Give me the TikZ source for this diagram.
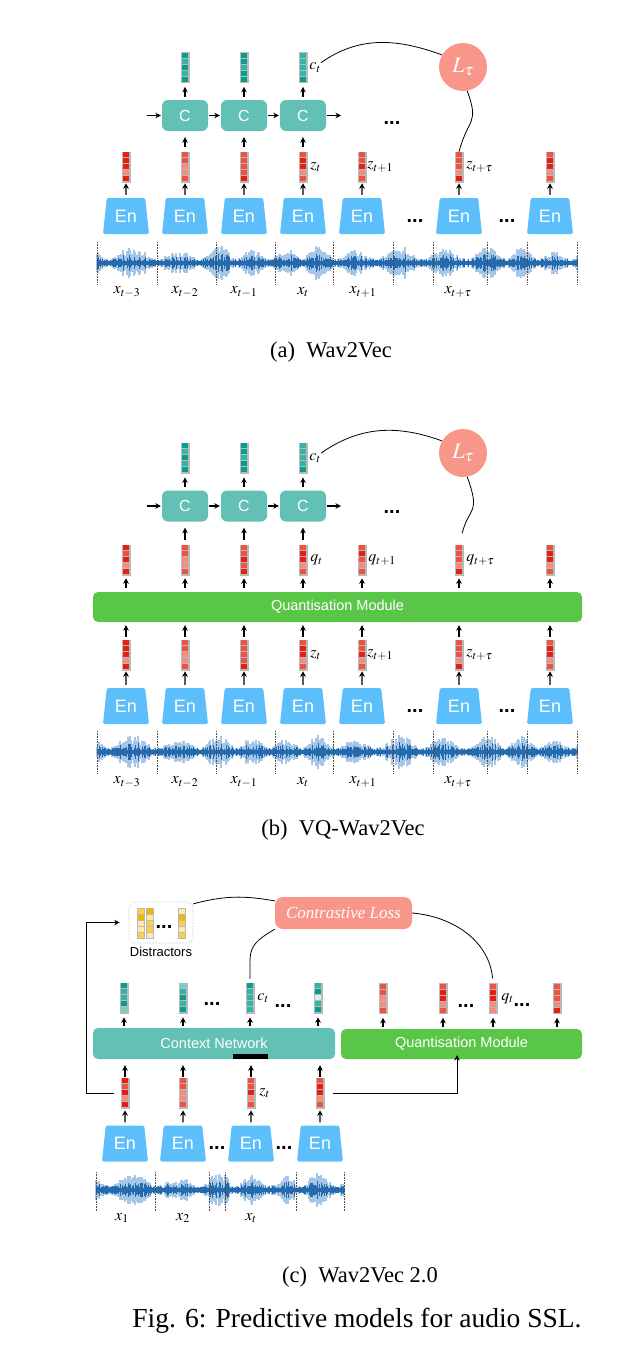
\documentclass[tikz,border=0pt]{standalone}
\usepackage{mathptmx}
\usepackage{fontspec}
\setmainfont{Liberation Serif}
\setsansfont{Liberation Sans}
\usepackage{tikz}
\usetikzlibrary{shapes.geometric, arrows.meta, positioning}

\definecolor{enblue}{RGB}{92,190,250}
\definecolor{ctxteal}{RGB}{98,192,180}
\definecolor{qgreen}{RGB}{90,198,72}
\definecolor{losspink}{RGB}{248,150,138}
\definecolor{wavelight}{RGB}{165,198,230}
\definecolor{wavedark}{RGB}{36,106,172}
\definecolor{vecgray}{RGB}{185,185,185}
\definecolor{r1}{RGB}{232,30,15}
\definecolor{r2}{RGB}{238,82,66}
\definecolor{r3}{RGB}{244,140,128}
\definecolor{t1}{RGB}{8,158,142}
\definecolor{t2}{RGB}{50,180,166}
\definecolor{t3}{RGB}{120,206,195}
\definecolor{t4}{RGB}{215,240,236}
\definecolor{y1}{RGB}{245,180,0}
\definecolor{y2}{RGB}{250,208,70}
\definecolor{y3}{RGB}{253,234,170}

\tikzstyle{encoder} = [trapezium, trapezium stretches=true, trapezium angle=80, minimum width=46pt, minimum height=36pt, inner sep=0pt, fill=enblue, rounded corners=1.5pt, text=white, font=\fontsize{18}{20}\selectfont\sffamily]
\tikzstyle{ctxbox} = [rectangle, rounded corners=6pt, minimum width=46pt, minimum height=31pt, fill=ctxteal, text=white, font=\fontsize{16}{18}\selectfont\sffamily]
\tikzstyle{bar} = [rectangle, rounded corners=5pt, minimum height=31pt, inner sep=0pt, text=white, font=\fontsize{14.5}{16}\selectfont\sffamily]
\tikzstyle{vecbox} = [rectangle, minimum width=8pt, minimum height=30pt, inner sep=0pt, fill=vecgray, draw=vecgray, line width=0.5pt]
\tikzstyle{loss} = [circle, minimum size=48pt, inner sep=0pt, fill=losspink, text=white, font=\fontsize{22}{24}\selectfont]
\tikzstyle{arrow} = [line width=1.3pt, -{Stealth[length=5.5pt, width=5.5pt]}]
\tikzstyle{link} = [line width=0.8pt]
\tikzstyle{lbl} = [inner sep=0pt, font=\fontsize{16}{18}\selectfont]
\tikzstyle{dots} = [inner sep=0pt, font=\fontsize{20}{22}\selectfont\sffamily\bfseries]
\tikzstyle{sep} = [densely dotted, line width=0.6pt, black!70]
\tikzstyle{subcap} = [inner sep=0pt, font=\fontsize{22.5}{26}\selectfont]

% cells of a feature vector, colours from top to bottom
\newcommand{\vcells}[2]{%
  \foreach \cc [count=\k] in #2
    \fill[\cc] ([xshift=0.8pt, yshift={-(\k-1)*6pt-0.4pt}]#1.north west) rectangle ([xshift=-0.8pt, yshift={-\k*6pt+0.4pt}]#1.north east);
}
% audio waveform from x=#1 to x=#2 on centre line #3, seed #4
\newcommand{\wenvelope}{4+14*(abs(sin(\xx*4.7+40*sin(\xx*1.3))))^1.6*(0.5+0.5*abs(sin(\xx*1.9+25)))}
\newcommand{\audio}[4]{%
  \pgfmathsetseed{#4}
  \foreach \xx in {#1,...,#2}{
    \pgfmathsetmacro{\whi}{(\wenvelope)*(0.4+0.6*rnd)}
    \draw[wavelight, line width=1.2pt] (\xx,#3-\whi) -- (\xx,#3+\whi);
  }
  \pgfmathsetseed{#4}
  \foreach \xx in {#1,...,#2}{
    \pgfmathsetmacro{\wlo}{2+0.45*(\wenvelope)*(rnd)^1.5}
    \draw[wavedark, line width=1pt] (\xx,#3-\wlo) -- (\xx,#3+\wlo);
  }
}

\begin{document}
\begin{tikzpicture}[x=1pt, y=-1pt]
\useasboundingbox (0,0) rectangle (621,1350);

%---------------------------------(a) WAV2VEC
\audio{97}{577}{263}{11}
\foreach \sx in {97,157,216,275,333,393,433,487,527,577}
  \draw[sep] (\sx,242) -- (\sx,284);

\foreach \i/\x in {1/126,2/185,3/244,4/303,5/362,6/459,7/550}
  \node (ena\i) [encoder] at (\x,216) {En};
\foreach \i/\x/\cl in {1/126/{r1,r1,r1,r3,r1},2/185/{r2,r2,r3,r3,r2},3/244/{r2,r2,r2,r2,r1},4/303/{r2,r1,r1,r3,r2},5/362/{r2,r2,r1,r3,r2},6/459/{r2,r2,r2,r3,r1},7/550/{r2,r1,r1,r3,r2}}{
  \node (za\i) [vecbox] at (\x,167) {};
  \vcells{za\i}{\cl}
  \draw [arrow, shorten <=3pt, shorten >=1pt] (ena\i) -- (za\i);
}
\node (ctxa2) [ctxbox] at (185,115.5) {C};
\node (ctxa3) [ctxbox] at (244,115.5) {C};
\node (ctxa4) [ctxbox] at (303,115.5) {C};
\foreach \i/\cl in {2/{t1,t2,t1,t2,t1},3/{t1,t1,t2,t1,t1},4/{t2,t2,t2,t2,t1}}{
  \node (cva\i) [vecbox, above=17pt of ctxa\i] {};
  \vcells{cva\i}{\cl}
}
\node (dota1) [dots] at (392,123) {...};
\node (dota2) [dots] at (415,221) {...};
\node (dota3) [dots] at (507,221) {...};
\node (La) [loss] at (463,67) {$L_\tau$};
\node (lcta) [lbl, right=2pt of cva4] {$c_t$};
\node (lzta) [lbl, right=3pt of za4] {$z_t$};
\node (lzt1a) [lbl, right=1pt of za5] {$z_{t+1}$};
\node (lztta) [lbl, right=3pt of za6] {$z_{t+\tau}$};
\foreach \i/\x/\sub in {1/127/{t-3},2/185/{t-2},3/244/{t-1},4/303/{t},5/363/{t+1},6/458/{t+\tau}}
  \node (xa\i) [lbl] at (\x,292) {$x_{\sub}$};
\coordinate (ina) at (147,115.5);
\coordinate (outa) at (341,115.5);

\draw [arrow, shorten >=1pt] (ina) -- (ctxa2);
\draw [arrow, shorten <=1pt, shorten >=1pt] (ctxa2) -- (ctxa3);
\draw [arrow, shorten <=1pt, shorten >=1pt] (ctxa3) -- (ctxa4);
\draw [arrow, shorten <=1pt] (ctxa4) -- (outa);
\foreach \i in {2,3,4}{
  \draw [arrow, shorten <=5pt, shorten >=6pt] (za\i) -- (ctxa\i);
  \draw [arrow, shorten <=3pt, shorten >=4pt] (ctxa\i) -- (cva\i);
}
\draw [link] (lcta.north east) to[out=35, in=160] (La.150);
\draw [link] (La.-80) to[out=-70, in=75, looseness=1.5] (za6.north);
\node (capa) [subcap] at (331,352) {(a)\enspace Wav2Vec};

%---------------------------------(b) VQ-WAV2VEC
\audio{97}{577}{752}{23}
\foreach \sx in {97,157,216,275,333,393,433,487,527,577}
  \draw[sep] (\sx,731) -- (\sx,773);

\foreach \i/\x in {1/126,2/185,3/244,4/303,5/362,6/459,7/550}
  \node (enb\i) [encoder] at (\x,706) {En};
\node (qmb) [bar, fill=qgreen, minimum width=489pt, minimum height=30pt] at (337.5,607) {Quantisation Module};
\foreach \i/\x/\cl in {1/126/{r1,r1,r1,r3,r1},2/185/{r2,r2,r3,r3,r2},3/244/{r2,r2,r2,r2,r1},4/303/{r2,r1,r1,r3,r2},5/362/{r2,r2,r1,r3,r2},6/459/{r2,r2,r2,r3,r1},7/550/{r2,r1,r1,r3,r2}}{
  \node (zb\i) [vecbox] at (\x,655) {};
  \vcells{zb\i}{\cl}
  \draw [arrow, shorten <=3pt, shorten >=1pt] (enb\i) -- (zb\i);
  \draw [arrow, shorten <=3pt, shorten >=3pt] (zb\i) -- (qmb.south -| zb\i);
}
\foreach \i/\x/\cl in {1/126/{r1,r2,r1,r3,r1},2/185/{r2,r2,r3,r3,r2},3/244/{r2,r2,r1,r2,r1},4/303/{r2,r1,r1,r3,r2},5/362/{r2,r1,r2,r3,r2},6/459/{r2,r2,r2,r3,r1},7/550/{r2,r1,r1,r3,r2}}{
  \node (qb\i) [vecbox] at (\x,560) {};
  \vcells{qb\i}{\cl}
  \draw [arrow, shorten <=4pt, shorten >=3pt] (qmb.north -| qb\i) -- (qb\i);
}
\node (ctxb2) [ctxbox] at (185,506) {C};
\node (ctxb3) [ctxbox] at (244,506) {C};
\node (ctxb4) [ctxbox] at (303,506) {C};
\foreach \i/\cl in {2/{t1,t2,t1,t2,t1},3/{t1,t1,t2,t1,t1},4/{t2,t2,t2,t2,t1}}{
  \node (cvb\i) [vecbox, above=17pt of ctxb\i] {};
  \vcells{cvb\i}{\cl}
}
\node (dotb1) [dots] at (392,512) {...};
\node (dotb2) [dots] at (415,711) {...};
\node (dotb3) [dots] at (507,711) {...};
\node (Lb) [loss] at (463,453) {$L_\tau$};
\node (lctb) [lbl, right=2pt of cvb4] {$c_t$};
\node (lqtb) [lbl, right=3pt of qb4] {$q_t$};
\node (lqt1b) [lbl, right=2pt of qb5] {$q_{t+1}$};
\node (lqttb) [lbl, right=3pt of qb6] {$q_{t+\tau}$};
\node (lztb) [lbl, right=3pt of zb4] {$z_t$};
\node (lzt1b) [lbl, right=1pt of zb5] {$z_{t+1}$};
\node (lzttb) [lbl, right=3pt of zb6] {$z_{t+\tau}$};
\foreach \i/\x/\sub in {1/127/{t-3},2/185/{t-2},3/244/{t-1},4/303/{t},5/363/{t+1},6/458/{t+\tau}}
  \node (xb\i) [lbl] at (\x,782) {$x_{\sub}$};
\coordinate (inb) at (147,506);
\coordinate (outb) at (341,506);

\draw [arrow, shorten >=1pt] (inb) -- (ctxb2);
\draw [arrow, shorten <=1pt, shorten >=1pt] (ctxb2) -- (ctxb3);
\draw [arrow, shorten <=1pt, shorten >=1pt] (ctxb3) -- (ctxb4);
\draw [arrow, shorten <=1pt] (ctxb4) -- (outb);
\foreach \i in {2,3,4}{
  \draw [arrow, shorten <=5pt, shorten >=6pt] (qb\i) -- (ctxb\i);
  \draw [arrow, shorten <=3pt, shorten >=4pt] (ctxb\i) -- (cvb\i);
}
\draw [link] (lctb.north east) to[out=35, in=160] (Lb.150);
\draw [link, shorten >=12pt] (Lb.-80) to[out=-70, in=75, looseness=1.5] (qb6.north);
\node (capb) [subcap] at (343,830) {(b)\enspace VQ-Wav2Vec};

%---------------------------------(c) WAV2VEC 2.0
\audio{96}{344}{1190}{37}
\foreach \sx in {96,155,209,225,296,344}
  \draw[sep] (\sx,1172) -- (\sx,1212);

\foreach \i/\x in {1/125,2/183,3/251,4/320}
  \node (enc\i) [encoder] at (\x,1143.5) {En};
\node (ctxnet) [bar, fill=ctxteal, minimum width=242pt, minimum height=31pt] at (214,1043.5) {Context Network};
\fill [black] (233,1053.5) rectangle (268,1059);
\node (qmc) [bar, fill=qgreen, minimum width=241pt, minimum height=30pt] at (461.5,1044) {Quantisation Module};
\foreach \i/\x/\cl in {1/125/{r1,r2,r1,r3,r1},2/183/{r2,r2,r3,r3,r2},3/251/{r2,r2,r1,r3,r2},4/320/{r2,r1,r1,r3,r2}}{
  \node (zc\i) [vecbox] at (\x,1093) {};
  \vcells{zc\i}{\cl}
  \draw [arrow, shorten <=3pt, shorten >=2pt] (enc\i) -- (zc\i);
  \draw [arrow, shorten <=1pt, shorten >=6pt] (zc\i) -- (ctxnet.south -| zc\i);
}
\foreach \i/\x/\cl in {1/124/{t1,t2,t2,t1,t3},2/183/{t3,t2,t1,t2,t1},3/250/{t1,t2,t2,t2,t2},4/318/{t2,t1,t4,t2,t1}}{
  \node (cvc\i) [vecbox] at (\x,998) {};
  \vcells{cvc\i}{\cl}
  \draw [arrow, shorten <=2pt, shorten >=4pt] (ctxnet.north -| cvc\i) -- (cvc\i);
}
\foreach \i/\x/\cl in {1/383/{r2,r2,r3,r3,r2},2/443/{r2,r1,r1,r3,r2},3/493/{r2,r1,r1,r3,r3},4/557/{r2,r2,r2,r3,r1}}{
  \node (qc\i) [vecbox] at (\x,998.5) {};
  \vcells{qc\i}{\cl}
  \draw [arrow, shorten <=2pt, shorten >=4pt] (qmc.north -| qc\i) -- (qc\i);
}
\node (closs) [rectangle, rounded corners=8pt, minimum width=137pt, minimum height=32pt, fill=losspink, text=white, font=\fontsize{17}{20}\selectfont\itshape] at (343.5,913) {Contrastive Loss};
\node (dis) [rectangle, rounded corners=6pt, minimum width=64pt, minimum height=41pt, draw=black!22, dash pattern=on 1.5pt off 1.5pt, line width=0.6pt] at (161,922.5) {};
\foreach \i/\x/\cl in {1/141/{y2,y1,y3,y3,y2},2/150/{y1,y3,y2,y2,y3},3/182/{y3,y1,y2,y3,y2}}{
  \node (dy\i) [vecbox, minimum width=7pt] at (\x,923.5) {};
  \vcells{dy\i}{\cl}
}
\node (dotd) [dots] at (164,927) {...};
\node (dislbl) [below=4pt of dis, inner sep=0pt, font=\fontsize{13}{15}\selectfont\sffamily] {Distractors};
\node (dotc1) [dots] at (212,1004) {...};
\node (dotc2) [dots] at (283,1006) {...};
\node (dotc3) [dots] at (466,1006) {...};
\node (dotc4) [dots] at (522,1005) {...};
\node (dotc5) [dots] at (217,1148) {...};
\node (dotc6) [dots] at (284,1148) {...};
\node (lctc) [lbl, right=3pt of cvc3] {$c_t$};
\node (lqtc) [lbl, right=4pt of qc3] {$q_t$};
\node (lztc) [lbl, right=4pt of zc3] {$z_t$};
\foreach \i/\x/\sub in {1/122/{1},2/183/{2},3/251/{t}}
  \node (xc\i) [lbl] at (\x,1218) {$x_{\sub}$};
\coordinate (lp) at (86,922.5);
\coordinate (qin) at (457,1059);

\draw [arrow, line width=1pt, shorten <=7pt, shorten >=9pt] (zc1.west) -| (lp) -- (dis.west);
\draw [arrow, line width=1pt, shorten <=9pt, shorten >=-4pt] (zc4.east) -| (qin);
\draw [link] (dis.30) to[out=15, in=170] (closs.170);
\draw [link, shorten >=4pt] (closs.south west) to[out=210, in=90, looseness=1.4] (cvc3.north);
\draw [link, shorten >=5pt] (closs.east) to[out=-5, in=95] (qc3.north);
\node (capc) [subcap] at (360,1277) {(c)\enspace Wav2Vec 2.0};

\node (fig) [inner sep=0pt, font=\fontsize{27.5}{32}\selectfont] at (357,1321) {Fig. 6: Predictive models for audio SSL.};
\end{tikzpicture}
\end{document}
